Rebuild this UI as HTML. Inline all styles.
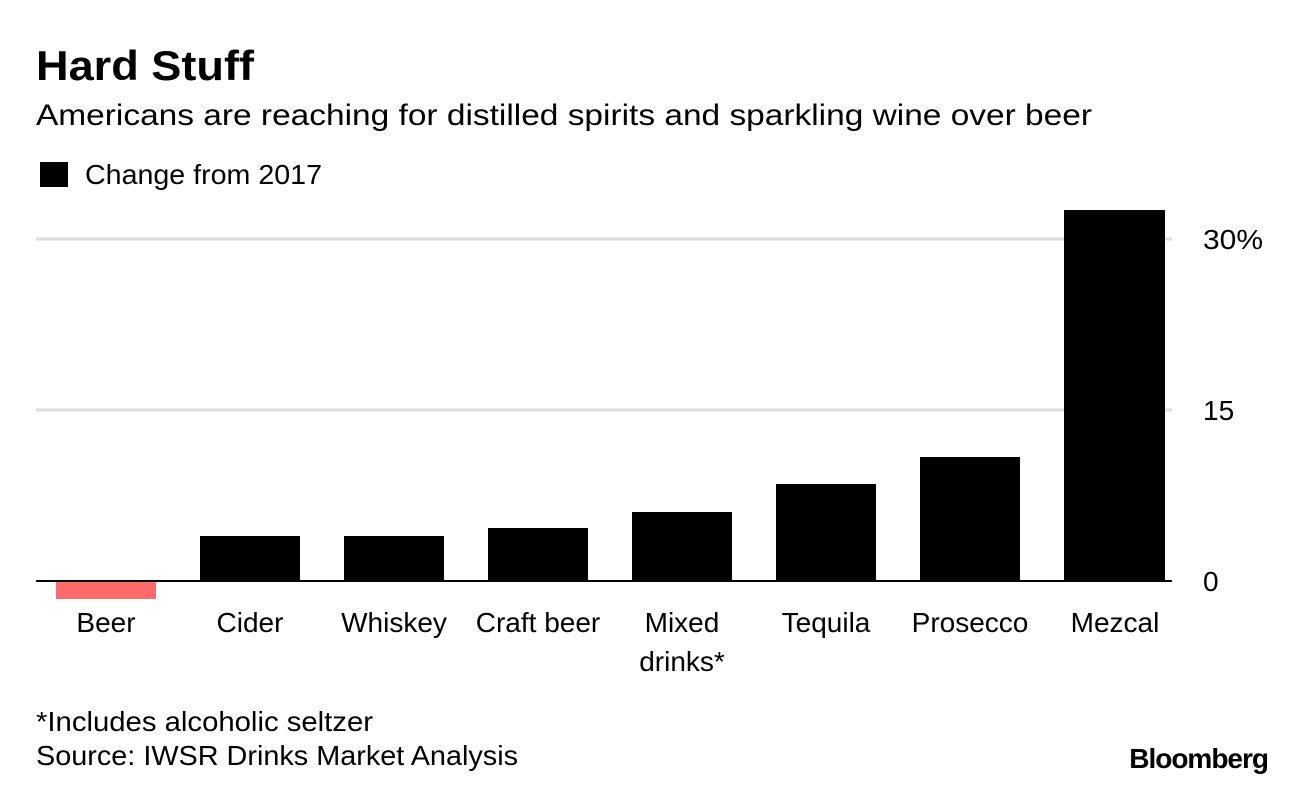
<!DOCTYPE html>
<html><head><meta charset="utf-8"><style>
body{margin:0;background:#fff;}
svg{display:block;font-family:"Liberation Sans",Arial,sans-serif;}
</style></head><body>
<svg width="1296" height="788" viewBox="0 0 1296 788">
<rect width="1296" height="788" fill="#fff"/>
<text x="36" y="80" font-size="42" font-weight="bold" fill="#000" textLength="218" lengthAdjust="spacingAndGlyphs">Hard Stuff</text>
<text x="36" y="125" font-size="30" fill="#000" textLength="1056" lengthAdjust="spacingAndGlyphs">Americans are reaching for distilled spirits and sparkling wine over beer</text>
<rect x="40" y="162" width="28" height="25" fill="#000"/>
<text x="85" y="184" font-size="28" fill="#000" textLength="237" lengthAdjust="spacingAndGlyphs">Change from 2017</text>
<line x1="36" y1="239" x2="1172" y2="239" stroke="#ddd" stroke-width="3"/>
<line x1="36" y1="410" x2="1172" y2="410" stroke="#ddd" stroke-width="3"/>
<g fill="#000">
<rect x="200" y="536" width="100" height="45"/>
<rect x="344" y="536" width="100" height="45"/>
<rect x="488" y="528" width="100" height="53"/>
<rect x="632" y="512" width="100" height="69"/>
<rect x="776" y="484" width="100" height="97"/>
<rect x="920" y="457" width="100" height="124"/>
<rect x="1064" y="210" width="101" height="371"/>
</g>
<rect x="56" y="581" width="100" height="18" fill="#ff6b6b"/>
<line x1="36" y1="581" x2="1172" y2="581" stroke="#000" stroke-width="2"/>
<g font-size="28" fill="#000">
<text x="1203" y="249" textLength="60" lengthAdjust="spacingAndGlyphs">30%</text>
<text x="1203" y="420">15</text>
<text x="1203" y="591">0</text>
</g>
<g font-size="28" fill="#000" text-anchor="middle">
<text x="106" y="632">Beer</text>
<text x="250" y="632">Cider</text>
<text x="394" y="632">Whiskey</text>
<text x="538" y="632">Craft beer</text>
<text x="682" y="632">Mixed</text>
<text x="682" y="671">drinks*</text>
<text x="826" y="632">Tequila</text>
<text x="970" y="632">Prosecco</text>
<text x="1115" y="632">Mezcal</text>
</g>
<text x="36" y="731" font-size="28" fill="#000" textLength="337" lengthAdjust="spacingAndGlyphs">*Includes alcoholic seltzer</text>
<text x="36" y="765" font-size="28" fill="#000" textLength="482" lengthAdjust="spacingAndGlyphs">Source: IWSR Drinks Market Analysis</text>
<text x="1268" y="768" font-size="28" font-weight="bold" fill="#000" text-anchor="end" letter-spacing="-1">Bloomberg</text>
</svg>
</body></html>
